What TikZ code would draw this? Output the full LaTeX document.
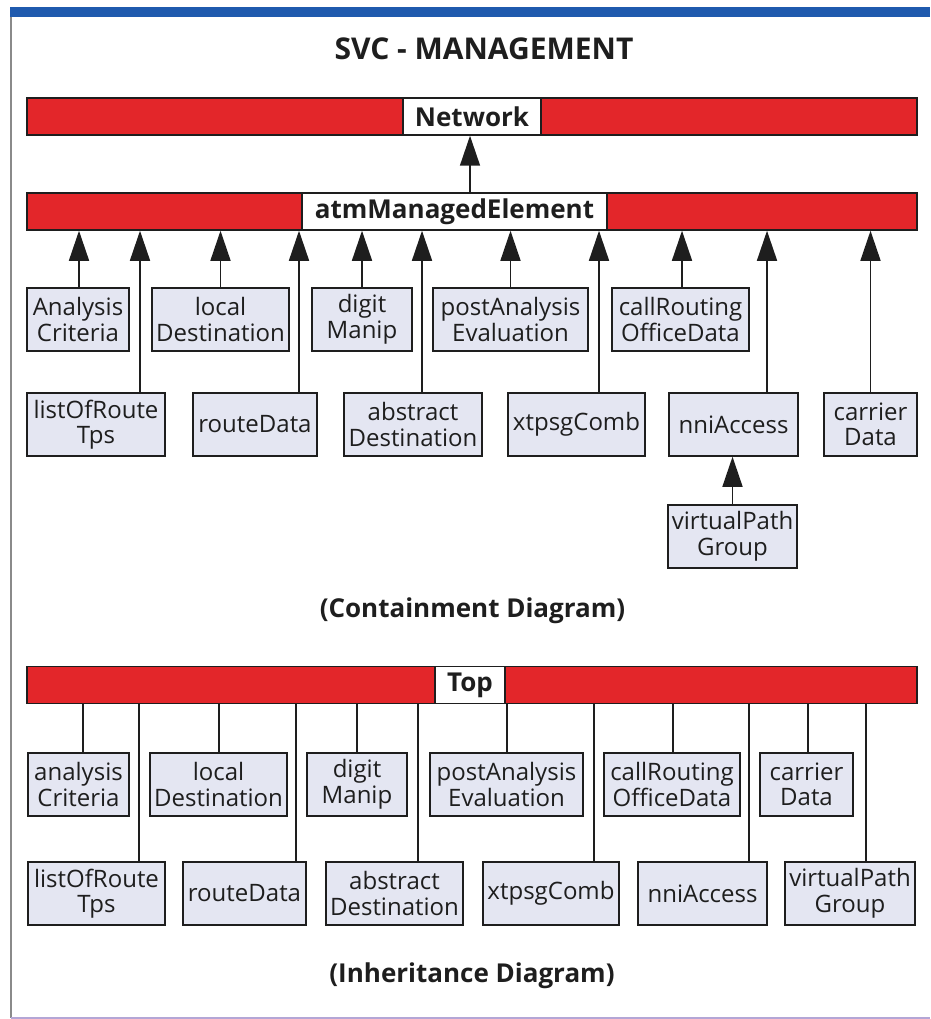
\documentclass[tikz,border=0pt]{standalone}
\usepackage{fontspec}
\setmainfont{Open Sans}
\usetikzlibrary{arrows.meta}
\definecolor{barred}{HTML}{E3262A}
\definecolor{boxfill}{HTML}{E4E6F2}
\definecolor{ink}{HTML}{1E1E1E}
\definecolor{bandblue}{HTML}{1F5AAE}
\definecolor{edgegray}{HTML}{8A8A8A}
\definecolor{edgelilac}{HTML}{B4A6D6}

\begin{document}
\begin{tikzpicture}[x=1pt,y=-1pt,
  cls/.style={draw=ink, line width=1.5pt, fill=boxfill, text=ink, align=center,
    inner sep=0pt, minimum height=63pt, font=\fontsize{24}{25.5}\selectfont},
  bar/.style={draw=ink, line width=1.5pt, fill=barred, inner sep=0pt,
    minimum width=890pt, minimum height=37pt},
  barlabel/.style={draw=ink, line width=1.5pt, fill=white, text=ink, inner sep=0pt,
    minimum height=37pt, font=\fontsize{26}{28}\selectfont\bfseries},
  heading/.style={text=ink, anchor=base, inner sep=0pt, font=\fontsize{26}{28}\selectfont\bfseries},
  arr/.style={draw=ink, line width=1.5pt, -{Triangle[width=20pt,length=30pt]}},
  lnk/.style={draw=ink, line width=1.5pt},
]
\useasboundingbox (0,0) rectangle (930,1019);

% page frame
\fill[bandblue] (10,7) rectangle (930,17);
\draw[edgegray, line width=1.2pt] (11,17) -- (11,1018);
\draw[edgelilac, line width=1.2pt] (11,1018) -- (930,1018);

% title
\node[heading, font=\fontsize{30}{32}\selectfont\bfseries] (title) at (484,60) {SVC - MANAGEMENT};

% ---------------- containment diagram ----------------
\node[bar] (netbar) at (472,116.5) {};
\node[barlabel, minimum width=138pt] (network) at (472,116.5) {Network};
\node[bar] (atmbar) at (472,211.5) {};
\node[barlabel, minimum width=305pt] (atm) at (454.5,211.5) {atmManagedElement};

\draw[arr] (atmbar.north -| 470,0) -- (netbar.south -| 470,0);

% first row
\node[cls, minimum width=102pt] (ac) at (78,319.5) {Analysis\\Criteria};
\node[cls, minimum width=137pt] (ld) at (220.5,319.5) {local\\Destination};
\node[cls, minimum width=100pt] (dm) at (362,319.5) {digit\\Manip};
\node[cls, minimum width=155pt] (pa) at (510.5,319.5) {postAnalysis\\Evaluation};
\node[cls, minimum width=137pt] (cr) at (680.5,319.5) {callRouting\\OfficeData};

% second row
\node[cls, minimum width=138pt] (lr) at (96,424.5) {listOfRoute\\Tps};
\node[cls, minimum width=124pt] (rd) at (255,424.5) {routeData};
\node[cls, minimum width=138pt] (ad) at (413,424.5) {abstract\\Destination};
\node[cls, minimum width=137pt] (xc) at (576.5,424.5) {xtpsgComb};
\node[cls, minimum width=129pt] (na) at (733.5,424.5) {nniAccess};
\node[cls, minimum width=93pt]  (cd) at (870.5,424.5) {carrier\\Data};
\node[cls, minimum width=129pt] (vp) at (732.5,536.5) {virtualPath\\Group};

\foreach \n/\s in {ac/1, ld/0, dm/0, pa/0, cr/1.5, lr/44, rd/44, ad/9, xc/22.5, na/33.5, cd/0}
  \draw[arr] ([xshift=\s pt]\n.north) -- ([xshift=\s pt]\n.north |- atmbar.south);
\draw[arr] (vp.north) -- (vp.north |- na.south);

\node[heading] (contcap) at (472.5,617) {(Containment Diagram)};

% ---------------- inheritance diagram ----------------
\node[bar] (topbar) at (472,685) {};
\node[barlabel, minimum width=70pt] (top) at (470,685) {Top};

% first row
\node[cls, minimum width=101pt] (ac2) at (78.5,784.5) {analysis\\Criteria};
\node[cls, minimum width=137pt] (ld2) at (218.5,784.5) {local\\Destination};
\node[cls, minimum width=100pt] (dm2) at (357,784.5) {digit\\Manip};
\node[cls, minimum width=153pt] (pa2) at (506.5,784.5) {postAnalysis\\Evaluation};
\node[cls, minimum width=136pt] (cr2) at (672,784.5) {callRouting\\OfficeData};
\node[cls, minimum width=93pt]  (cd2) at (806.5,784.5) {carrier\\Data};

% second row
\node[cls, minimum width=137pt] (lr2) at (96.5,893.5) {listOfRoute\\Tps};
\node[cls, minimum width=123pt] (rd2) at (244.5,893.5) {routeData};
\node[cls, minimum width=137pt] (ad2) at (394.5,893.5) {abstract\\Destination};
\node[cls, minimum width=136pt] (xc2) at (551,893.5) {xtpsgComb};
\node[cls, minimum width=129pt] (na2) at (702.5,893.5) {nniAccess};
\node[cls, minimum width=130pt] (vp2) at (850,893.5) {virtualPath\\Group};

\foreach \n/\s in {ac2/4.5, ld2/0.5, dm2/0, pa2/0.5, cr2/1, cd2/1.5, lr2/42.5, rd2/51.5, ad2/23.5, xc2/43, na2/46.5, vp2/16}
  \draw[lnk] ([xshift=\s pt]\n.north) -- ([xshift=\s pt]\n.north |- topbar.south);

\node[heading] (inhcap) at (472,982) {(Inheritance Diagram)};
\end{tikzpicture}
\end{document}
